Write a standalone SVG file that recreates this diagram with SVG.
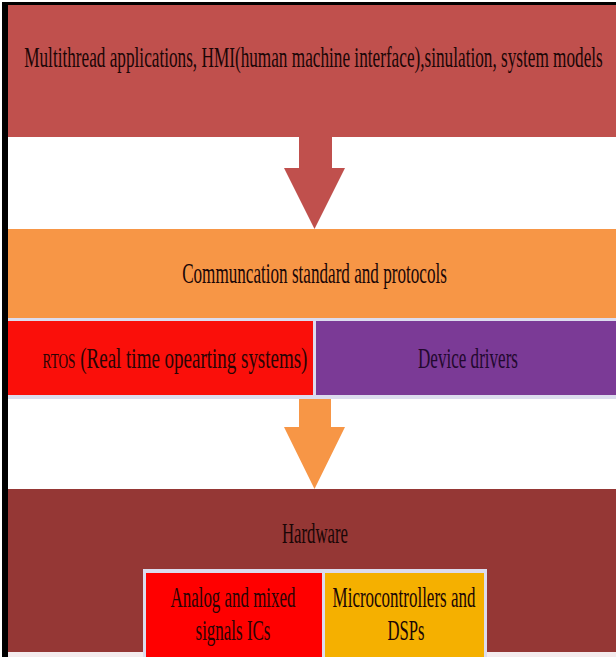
<svg xmlns="http://www.w3.org/2000/svg" width="616" height="657" viewBox="0 0 616 657">
<style>
.t{font-family:"Liberation Serif","Times New Roman",serif;font-size:30px;fill:#1a0606;text-anchor:middle}
.sep{fill:#DCDCEE}
</style>
<rect x="0" y="0" width="616" height="657" fill="#ffffff"/>
<rect x="2" y="2" width="614" height="3" fill="#000"/>
<rect x="2" y="2" width="6" height="655" fill="#000"/>
<g id="applications">
<rect x="8" y="5" width="608" height="132" fill="#C0504D"/>
<text class="t" transform="translate(313.5,67) scale(0.574,1)">Multithread applications, HMI(human machine interface),sinulation, system models</text>
</g>
<g id="communication">
<rect x="8" y="229" width="608" height="89" fill="#F79646"/>
<text class="t" transform="translate(314.5,283) scale(0.571,1)">Communcation standard and protocols</text>
</g>
<rect class="sep" x="8" y="318" width="608" height="3"/>
<g id="rtos">
<rect x="8" y="321" width="305" height="74" fill="#FA0F0A"/>
<text class="t" transform="translate(175,368) scale(0.633,1)" style="fill:#2a0404"><tspan font-size="21">RTOS</tspan> (Real time opearting systems)</text>
</g>
<rect class="sep" x="313" y="321" width="3" height="74"/>
<g id="drivers">
<rect x="316" y="321" width="300" height="74" fill="#7B3A96"/>
<text class="t" transform="translate(468,368) scale(0.569,1)" style="fill:#22082e">Device drivers</text>
</g>
<rect class="sep" x="8" y="395" width="608" height="4"/>
<g id="hardware">
<rect x="8" y="489" width="608" height="163" fill="#953735"/>
<rect x="8" y="652" width="608" height="5" fill="#F4ECEE"/>
<text class="t" transform="translate(315,543) scale(0.558,1)">Hardware</text>
<rect class="sep" x="143" y="569" width="344" height="88"/>
</g>
<g id="analog">
<rect x="146" y="573" width="176" height="84" fill="#FF0000"/>
<text class="t" transform="translate(233,607) scale(0.564,1)" style="fill:#2a0404">Analog and mixed</text>
<text class="t" transform="translate(233,640) scale(0.566,1)" style="fill:#2a0404">signals ICs</text>
</g>
<g id="micro">
<rect x="325" y="573" width="159" height="84" fill="#F5B000"/>
<text class="t" transform="translate(404,607) scale(0.566,1)">Microcontrollers and</text>
<text class="t" transform="translate(406,640) scale(0.555,1)">DSPs</text>
</g>
<g id="connectors">
<polygon points="299,137 332,137 332,168 345,168 314.5,229 284,168 299,168" fill="#C0504D"/>
<polygon points="299,399 331,399 331,427 345,427 314.5,489 284,427 299,427" fill="#F79646"/>
</g>
</svg>
